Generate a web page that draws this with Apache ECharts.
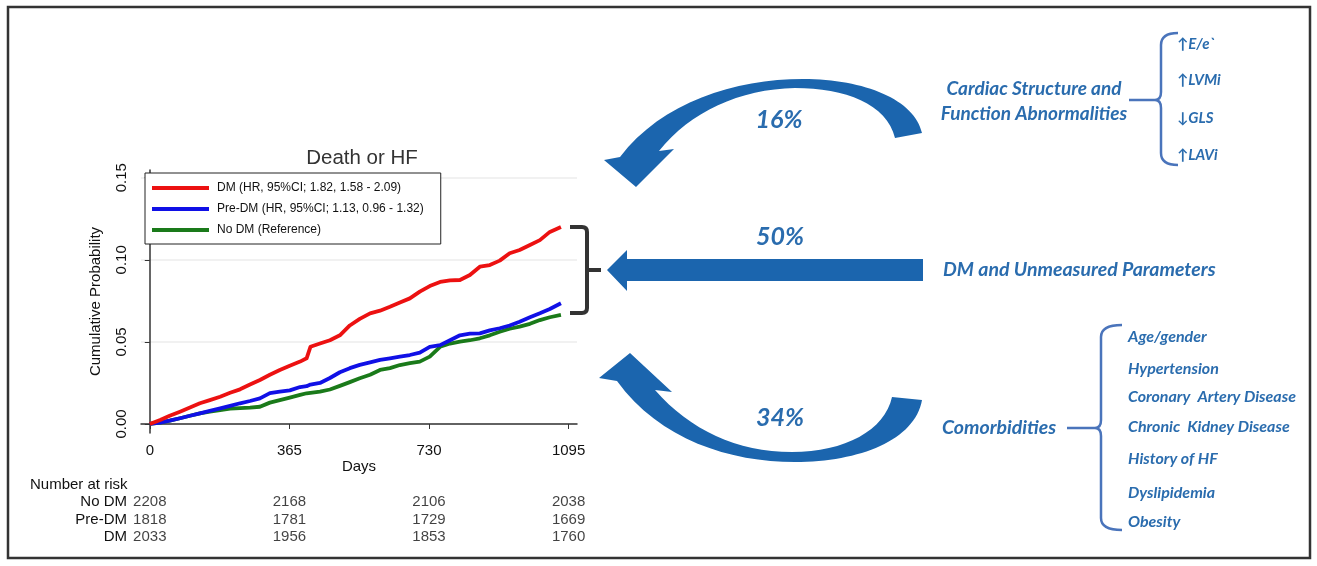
<!DOCTYPE html>
<html><head><meta charset="utf-8">
<script src="https://cdn.jsdelivr.net/npm/echarts@6/dist/echarts.min.js"></script>
<style>html,body{margin:0;padding:0;background:#fff}#c{width:1317px;height:566px}</style>
</head><body><div id="c"></div>
<script>
// ---- data ----
const days      = [0, 27, 52, 79, 105, 131, 157, 184, 210, 236, 262, 288, 314, 340, 366, 393, 410, 420, 445, 471, 497, 523, 549, 576, 602, 628, 654, 680, 706, 732, 759, 785, 811, 837, 863, 889, 915, 941, 967, 994, 1020, 1046, 1075];
const dmProb    = [0, .0024, .005, .0075, .010, .0126, .0145, .0166, .019, .0211, .024, .0268, .030, .0329, .0355, .038, .040, .047, .049, .051, .054, .060, .064, .0674, .069, .0714, .074, .0765, .0806, .084, .0865, .0875, .0877, .0907, .0958, .0968, .0995, .104, .106, .109, .112, .117, .120];
const preDmProb = [0, .0008, .002, .0035, .005, .0065, .008, .0095, .011, .0126, .014, .0156, .0188, .0197, .0205, .0225, .023, .024, .025, .028, .0315, .034, .036, .0375, .039, .040, .041, .042, .0434, .047, .048, .051, .054, .055, .0552, .057, .0583, .060, .0623, .065, .0674, .070, .0735];
const noDmProb  = [0, .0008, .002, .0035, .005, .0065, .0075, .0085, .0093, .0097, .010, .0105, .013, .0145, .016, .0177, .0187, .019, .0197, .021, .0232, .0255, .0278, .030, .0329, .034, .0359, .037, .038, .041, .047, .049, .0501, .051, .0522, .054, .0562, .058, .0593, .061, .0633, .065, .0664];
const xTicks = [0, 365, 730, 1095];
const yTicks = [0, 0.05, 0.10, 0.15];
const seriesNames = ['DM (HR, 95%CI; 1.82, 1.58 - 2.09)', 'Pre-DM (HR, 95%CI; 1.13, 0.96 - 1.32)', 'No DM (Reference)'];
const riskRows  = ['No DM', 'Pre-DM', 'DM'];
const riskDays  = [0, 365, 730, 1095];
const riskNoDm  = [2208, 2168, 2106, 2038];
const riskPreDm = [1818, 1781, 1729, 1669];
const riskDm    = [2033, 1956, 1853, 1760];
const shares = ['16%', '50%', '34%'];
const groupLabels = ['Cardiac Structure and\nFunction Abnormalities', 'DM and Unmeasured Parameters', 'Comorbidities'];
const cardiacItems = ['\u2191E/e`', '\u2191LVMi', '\u2193GLS', '\u2191LAVi'];
const comorbidItems = ['Age/gender', 'Hypertension', 'Coronary  Artery Disease', 'Chronic  Kidney Disease', 'History of HF', 'Dyslipidemia', 'Obesity'];

// ---- build ----
const zip = (xs, ys) => xs.map((x, i) => [x, ys[i]]);
const riskData = [riskNoDm, riskPreDm, riskDm];
const riskPoints = [];
riskRows.forEach((r, ri) => riskDays.forEach((d, di) => riskPoints.push([d, r, riskData[ri][di]])));

const FONT = '"Liberation Sans", Arial, sans-serif';
const BLUE_T = '#2a6cae';
const BLUE_A = '#1b65ae';
const BRACE = '#4a74bb';
const IT = 'italic bold ';
const IFONT = ' Lato, "Open Sans", sans-serif';

let shapeId = 0;
function svgShape(d, style) {
  const name = 'svgShape' + (shapeId++);
  echarts.graphic.registerShape(name, echarts.graphic.extendPath(d, {}));
  return { type: name, shape: {}, style, silent: true };
}

const graphic = [
  { type: 'rect', shape: { x: 8, y: 7, width: 1302, height: 551 }, style: { fill: 'none', stroke: '#333', lineWidth: 2.5 }, silent: true },
  svgShape('M570 227 L582 227 Q587 227 587 232 L587 308 Q587 313 582 313 L570 313 M587 270 L601 270', { fill: 'none', stroke: '#333', lineWidth: 4 }),
  svgShape('M895 138 C887 104 845 88 795 88 C740 89 690 112 659 151 L674 149 L636 187 L604 160 L620 157 C662 102 735 79 803 79 C865 79 915 100 922 133 Z', { fill: BLUE_A }),
  { type: 'polygon', shape: { points: [[923, 259], [627, 259], [627, 250], [607, 270], [627, 291], [627, 281], [923, 281]] }, style: { fill: BLUE_A }, silent: true },
  svgShape('M892 397 C885 430 845 452 792 452 C737 452 690 430 655 390 L672 392 L630 353 L599 378 L617 381 C660 440 730 462 795 462 C860 462 915 440 922 400 Z', { fill: BLUE_A }),
  { type: 'text', style: { text: shares[0], x: 779, y: 120, font: IT + '25px' + IFONT, fill: BLUE_T, textAlign: 'center', textVerticalAlign: 'middle' } },
  { type: 'text', style: { text: shares[1], x: 780, y: 237, font: IT + '25px' + IFONT, fill: BLUE_T, textAlign: 'center', textVerticalAlign: 'middle' } },
  { type: 'text', style: { text: shares[2], x: 780, y: 418, font: IT + '25px' + IFONT, fill: BLUE_T, textAlign: 'center', textVerticalAlign: 'middle' } },
  { type: 'text', style: { text: groupLabels[0], x: 1034, y: 101, font: IT + '19px' + IFONT, fill: BLUE_T, textAlign: 'center', textVerticalAlign: 'middle', lineHeight: 25 } },
  { type: 'text', style: { text: groupLabels[1], x: 943, y: 270, font: IT + '19.5px' + IFONT, fill: BLUE_T, textAlign: 'left', textVerticalAlign: 'middle' } },
  { type: 'text', style: { text: groupLabels[2], x: 942, y: 428, font: IT + '19.5px' + IFONT, fill: BLUE_T, textAlign: 'left', textVerticalAlign: 'middle' } },
  svgShape('M1178 33 Q1161 33 1161 45 L1161 92 Q1161 100 1155 100 Q1161 100 1161 108 L1161 153 Q1161 165 1178 165 M1129 100 L1155 100', { fill: 'none', stroke: BRACE, lineWidth: 2.5 }),
  svgShape('M1122 325 Q1101 325 1101 337 L1101 420 Q1101 428 1095 428 Q1101 428 1101 436 L1101 518 Q1101 530 1122 530 M1067 428 L1095 428', { fill: 'none', stroke: BRACE, lineWidth: 2.5 }),
  { type: 'text', style: { text: 'Number at risk', x: 30, y: 485, font: '15px ' + FONT, fill: '#111', textVerticalAlign: 'middle' } }
];
const cardiacY = [44, 80, 118, 155];
cardiacItems.forEach((t, i) => graphic.push({ type: 'text', style: { text: t, x: 1177, y: cardiacY[i], font: IT + '15px' + IFONT, fill: BLUE_T, textVerticalAlign: 'middle' } }));
const comorbidY = [337, 369, 397, 427, 459, 493, 522];
comorbidItems.forEach((t, i) => graphic.push({ type: 'text', style: { text: t, x: 1128, y: comorbidY[i], font: IT + '16px' + IFONT, fill: BLUE_T, textVerticalAlign: 'middle' } }));

const lineSeries = (name, vals, color) => ({
  name, type: 'line', xAxisIndex: 0, yAxisIndex: 0,
  data: zip(days, vals), showSymbol: false, symbol: 'none',
  lineStyle: { color, width: 3.8, join: 'round' }, itemStyle: { color }, silent: true, animation: false
});

const option = {
  animation: false,
  textStyle: { fontFamily: FONT },
  title: { text: 'Death or HF', left: 357, top: 143, textAlign: 'center', textStyle: { fontSize: 20.5, fontWeight: 'normal', color: '#333', fontFamily: FONT } },
  legend: {
    data: seriesNames, orient: 'vertical', left: 145, top: 173, selectedMode: false,
    icon: 'rect', itemWidth: 57, itemHeight: 4, itemGap: 7,
    padding: [8, 17, 7, 7], borderColor: '#222', borderWidth: 1, backgroundColor: '#fff',
    textStyle: { fontSize: 12, color: '#111', fontFamily: FONT, lineHeight: 14, padding: [0, 0, 0, 3] }
  },
  grid: [
    { left: 141, top: 170, width: 436, height: 263 },
    { left: 141, top: 493, width: 436, height: 53 }
  ],
  xAxis: [
    { gridIndex: 0, type: 'value', min: -23, max: 1117,
      name: 'Days', nameLocation: 'middle', nameGap: 24, nameTextStyle: { fontSize: 15, color: '#111' },
      axisLine: { show: true, lineStyle: { color: '#333', width: 1.5 } },
      axisTick: { show: true, length: 5, customValues: xTicks, lineStyle: { color: '#333' } },
      axisLabel: { customValues: xTicks, fontSize: 15, color: '#111', margin: 10, formatter: v => String(v) },
      splitLine: { show: false } },
    { gridIndex: 1, type: 'value', min: -23, max: 1117, show: false }
  ],
  yAxis: [
    { gridIndex: 0, type: 'value', min: -0.0055, max: 0.1547,
      name: 'Cumulative Probability', nameLocation: 'middle', nameGap: 38, nameTextStyle: { fontSize: 15, color: '#111' },
      axisLine: { show: true, lineStyle: { color: '#333', width: 1.5 } },
      axisTick: { show: true, length: 5, customValues: yTicks, lineStyle: { color: '#333' } },
      axisLabel: { customValues: yTicks, rotate: 90, fontSize: 15, color: '#111', margin: 12, formatter: v => v.toFixed(2) },
      splitLine: { show: true, lineStyle: { color: '#ececec', width: 1.5 } } },
    { gridIndex: 1, type: 'category', data: riskRows, inverse: true,
      axisLine: { show: false }, axisTick: { show: false }, splitLine: { show: false },
      axisLabel: { interval: 0, fontSize: 15, color: '#111', margin: 14 } }
  ],
  series: [
    lineSeries(seriesNames[2], noDmProb, '#1a7a1a'),
    lineSeries(seriesNames[1], preDmProb, '#1010e6'),
    lineSeries(seriesNames[0], dmProb, '#ec1111'),
    { type: 'scatter', xAxisIndex: 1, yAxisIndex: 1, data: riskPoints, symbolSize: 1,
      itemStyle: { color: 'transparent' }, silent: true,
      label: { show: true, position: 'inside', formatter: p => String(p.value[2]), fontSize: 15, color: '#111', fontFamily: FONT } }
  ],
  graphic
};
const chart = echarts.init(document.getElementById('c'), null, { renderer: 'canvas' });
chart.setOption(option);
</script></body></html>
